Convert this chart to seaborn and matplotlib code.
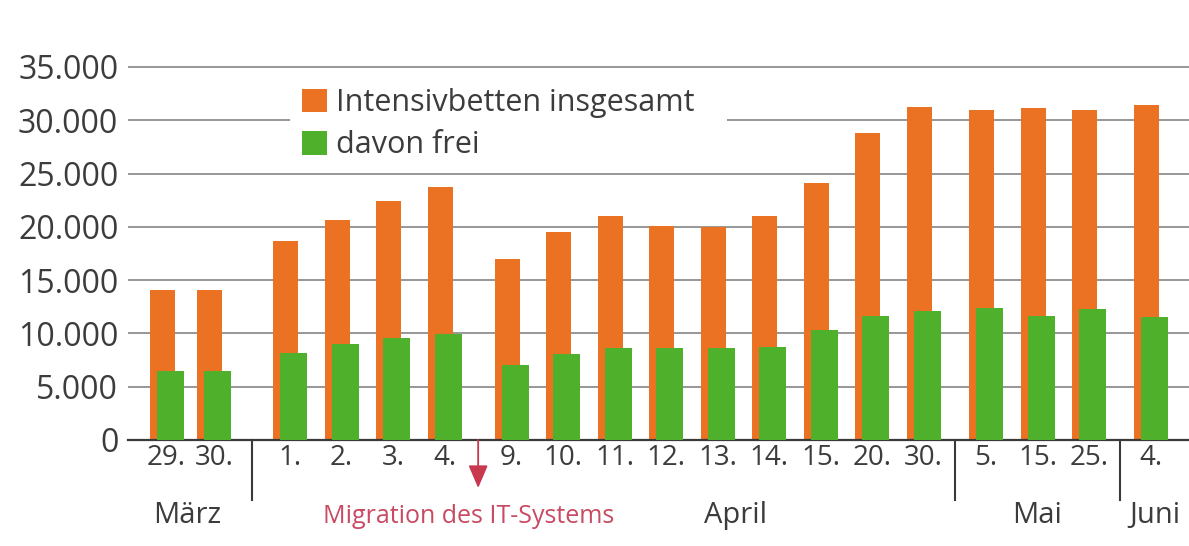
import numpy as np
import pandas as pd
import matplotlib
matplotlib.use("Agg")
import matplotlib.pyplot as plt
from matplotlib.patches import Patch
from matplotlib.ticker import FuncFormatter
import seaborn as sns

# ---------------- data ----------------
days = ["29.", "30.", "1.", "2.", "3.", "4.", "9.", "10.", "11.", "12.", "13.",
        "14.", "15.", "20.", "30.", "5.", "15.", "25.", "4."]
months = ["März", "April", "Mai", "Juni"]
total = [14100, 14100, 18700, 20600, 22400, 23700, 17000, 19550, 21000, 20100,
         19950, 21000, 24150, 28800, 31200, 30950, 31150, 31000, 31400]
free = [6500, 6500, 8200, 9000, 9600, 9900, 7000, 8100, 8600, 8600,
        8600, 8700, 10300, 11600, 12100, 12400, 11600, 12300, 11500]
series = ["Intensivbetten insgesamt", "davon frei"]
note = "Migration des IT-Systems"

# ---------------- layout ----------------
steps = [0, 0.93, 1.47, 1, 1, 1, 1.3, 1, 1, 1, 1, 1, 1, 1, 1, 1.21, 1, 1, 1.21]
pos = np.cumsum(steps)
orange = "#EB7223"
green = "#4FB02C"
txt = "#3c3c3c"

plt.rcParams["font.family"] = ["Open Sans", "DejaVu Sans"]

W, H = 1189, 546
fig = plt.figure(figsize=(W / 100, H / 100), dpi=100)
fig.patch.set_facecolor("white")
ax_h_px = 377.3
ax = fig.add_axes([128 / W, 106 / H, 1 - 128 / W, ax_h_px / H])

minstep = np.diff(pos).min()
df = pd.DataFrame({"x_tot": pos - 0.087, "x_free": pos + 0.068,
                   "total": total, "free": free})
sns.barplot(data=df, x="x_tot", y="total", native_scale=True, orient="x",
            width=0.485 / minstep, color=orange, saturation=1, errorbar=None,
            edgecolor="none", linewidth=0, zorder=2, ax=ax)
sns.barplot(data=df, x="x_free", y="free", native_scale=True, orient="x",
            width=0.524 / minstep, color=green, saturation=1, errorbar=None,
            edgecolor="none", linewidth=0, zorder=3, ax=ax)

ax.set_xlim(-0.748, 19.85)
ax.set_ylim(0, 35400)
ax.set_yticks(range(0, 35001, 5000))
ax.yaxis.set_major_formatter(FuncFormatter(lambda v, p: f"{int(v):,}".replace(",", ".")))
ax.set_xticks(pos)
ax.set_xticklabels(days)
ax.set_xlabel("")
ax.set_ylabel("")
ax.yaxis.grid(True, color="#8f8f8f", lw=1.3)
ax.xaxis.grid(False)
ax.set_axisbelow(True)
for s in ["left", "right", "top"]:
    ax.spines[s].set_visible(False)
ax.spines["bottom"].set_color("#3a3a3a")
ax.spines["bottom"].set_linewidth(1.6)
ax.tick_params(axis="y", length=0, pad=7, labelsize=23, labelcolor=txt)
ax.tick_params(axis="x", length=0, pad=3, labelsize=20, labelcolor=txt)

trans = ax.get_xaxis_transform()
base = -83 / ax_h_px
# month labels
ax.text(0.40, base, months[0], transform=trans, ha="center", va="baseline",
        fontsize=21, color=txt)
ax.text(11.04, base, months[1], transform=trans, ha="center", va="baseline",
        fontsize=21, color=txt)
ax.text(pos[15:18].mean(), base, months[2], transform=trans, ha="center",
        va="baseline", fontsize=21, color=txt)
ax.text(pos[18] - 0.42, base, months[3], transform=trans, ha="left",
        va="baseline", fontsize=21, color=txt, clip_on=False)
ax.text(5.87, base, note, transform=trans, ha="center", va="baseline",
        fontsize=18, color="#c84a63")

# month separators
for i in (1, 14, 17):
    xs = (pos[i] + pos[i + 1]) / 2
    ax.plot([xs, xs], [0, -60 / ax_h_px], transform=trans, color="#3a3a3a",
            lw=1.5, clip_on=False)

# migration arrow
xa = (pos[5] + pos[6]) / 2
ax.annotate("", xy=(xa, -48 / ax_h_px), xytext=(xa, 0), xycoords=trans,
            textcoords=trans,
            arrowprops=dict(arrowstyle="-|>,head_length=0.7,head_width=0.3",
                            color="#c8384f", lw=1.3, shrinkA=0, shrinkB=0,
                            mutation_scale=20), annotation_clip=False)

# legend
handles = [Patch(facecolor=orange, edgecolor="none", label=series[0]),
           Patch(facecolor=green, edgecolor="none", label=series[1])]
leg = ax.legend(handles=handles, loc="upper left", mode="expand",
                bbox_to_anchor=(290 / W, 1 - 166 / H, 437 / W, 90 / H),
                bbox_transform=fig.transFigure,
                frameon=True, fancybox=False, edgecolor="none", facecolor="white",
                framealpha=1, fontsize=22, handlelength=0.8, handleheight=0.8,
                handletextpad=0.3, labelspacing=0.4, borderpad=0.4,
                borderaxespad=0)
for t in leg.get_texts():
    t.set_color(txt)

fig.savefig("out.png", dpi=100, facecolor="white")
